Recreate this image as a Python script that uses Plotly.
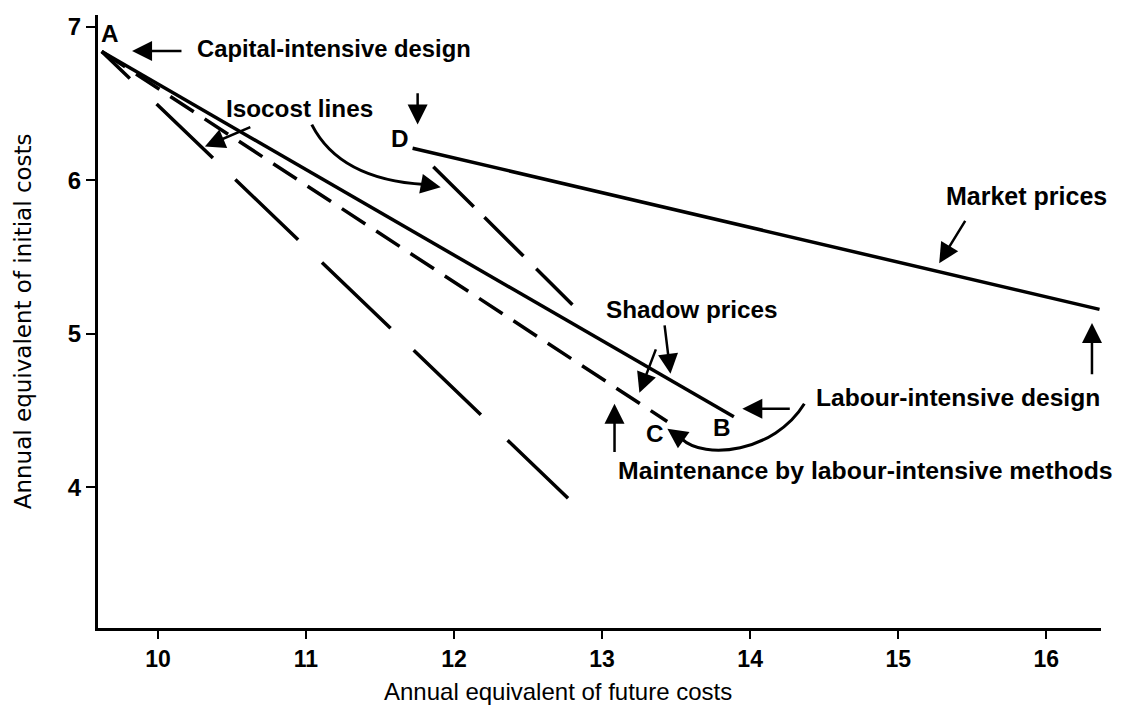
import plotly.graph_objects as go

# ---- data ----
shadow_x = [9.62, 13.89]          # A -> B, shadow prices
shadow_y = [6.84, 4.46]
maint_x = [9.62, 13.44]           # A -> C, labour-intensive maintenance
maint_y = [6.84, 4.43]
market_x = [11.72, 16.36]         # D -> E, market prices
market_y = [6.21, 5.16]
iso1_x = [9.62, 12.77]            # isocost line through A
iso1_y = [6.84, 3.93]
iso2_x = [11.86, 12.80]           # higher isocost line
iso2_y = [6.09, 5.19]

x_ticks = [10, 11, 12, 13, 14, 15, 16]
y_ticks = [4, 5, 6, 7]

FONT = "Liberation Sans"
LW = 3.5

fig = go.Figure()
fig.add_trace(go.Scatter(x=shadow_x, y=shadow_y, mode="lines",
                         line=dict(color="black", width=LW)))
fig.add_trace(go.Scatter(x=maint_x, y=maint_y, mode="lines",
                         line=dict(color="black", width=LW, dash="28px,13px")))
fig.add_trace(go.Scatter(x=market_x, y=market_y, mode="lines",
                         line=dict(color="black", width=LW)))
fig.add_trace(go.Scatter(x=iso1_x, y=iso1_y, mode="lines",
                         line=dict(color="black", width=LW,
                                   dash="39px,37px,78px,31px,87px,33px,95px,32px,93px,37px,86px,50px")))
fig.add_trace(go.Scatter(x=iso2_x, y=iso2_y, mode="lines",
                         line=dict(color="black", width=LW,
                                   dash="57px,15px,55px,18px,51px,10px")))

annotations = []


def label(text, x, y, xanchor="center", size=24.3):
    annotations.append(dict(x=x, y=y, xref="x", yref="y", text="<b>%s</b>" % text,
                            showarrow=False, xanchor=xanchor, yanchor="middle",
                            font=dict(family=FONT, size=size, color="black")))


def arrow(tail, tip):
    annotations.append(dict(x=tip[0], y=tip[1], ax=tail[0], ay=tail[1],
                            xref="x", yref="y", axref="x", ayref="y", text="",
                            showarrow=True, arrowhead=2, arrowsize=1.6, arrowwidth=2.5,
                            arrowcolor="black", standoff=0, startstandoff=0))


label("A", 9.676, 6.955)
label("Capital-intensive design", 10.25, 6.857, xanchor="left", size=23.8)
label("Isocost lines", 10.958, 6.468)
label("D", 11.633, 6.273)
label("Market prices", 15.864, 5.896, size=25)
label("E", 16.478, 5.162)
label("Shadow prices", 13.603, 5.156)
label("Labour-intensive design", 14.433, 4.584, xanchor="left", size=24.6)
label("B", 13.812, 4.390)
label("C", 13.360, 4.351)
label("Maintenance by labour-intensive methods", 13.097, 4.110, xanchor="left", size=24.8)

arrow((10.169, 6.844), (9.825, 6.844))      # capital-intensive
arrow((11.754, 6.578), (11.754, 6.364))     # to D
arrow((10.634, 6.351), (10.317, 6.221))     # isocost straight
arrow((11.802, 5.974), (11.910, 5.955))     # isocost curved end
arrow((15.459, 5.747), (15.277, 5.461))     # market prices
arrow((16.309, 4.727), (16.309, 5.071))     # to E
arrow((13.421, 5.065), (13.462, 4.740))     # shadow 1
arrow((13.367, 4.909), (13.252, 4.617))     # shadow 2
arrow((14.278, 4.513), (13.947, 4.513))     # labour-intensive design
arrow((13.536, 4.318), (13.441, 4.383))     # curved to C
arrow((13.084, 4.221), (13.084, 4.545))     # maintenance

# axis titles
annotations.append(dict(x=0.4586, y=-0.104, xref="paper", yref="paper",
                        text="Annual equivalent of future costs", showarrow=False,
                        xanchor="center", yanchor="middle",
                        font=dict(family="Liberation Sans", size=24, color="black")))
annotations.append(dict(x=-0.075, y=0.5, xref="paper", yref="paper",
                        text="Annual equivalent of initial costs", showarrow=False,
                        textangle=-90, xanchor="center", yanchor="middle",
                        font=dict(family="DejaVu Sans", size=23, color="black")))

shapes = [
    dict(type="path", xref="x", yref="y",
         path="M 11.039,6.364 Q 11.228,6.006 11.802,5.974",
         line=dict(color="black", width=3)),
    dict(type="path", xref="x", yref="y",
         path="M 14.366,4.545 C 14.163,4.227 13.691,4.175 13.536,4.318",
         line=dict(color="black", width=3)),
]

fig.update_layout(
    width=1124, height=699,
    margin=dict(l=90, r=31, t=5, b=79),
    paper_bgcolor="white", plot_bgcolor="white",
    showlegend=False,
    annotations=annotations,
    shapes=shapes,
    xaxis=dict(range=[9.595, 16.37], tickvals=x_ticks, ticks="outside", ticklen=8,
               tickwidth=2, tickcolor="black", showline=True, linecolor="black",
               linewidth=3, showgrid=False, zeroline=False,
               tickfont=dict(family=FONT, size=23, color="black", weight="bold")),
    yaxis=dict(range=[3.084, 7.078], tickvals=y_ticks, ticks="outside", ticklen=9,
               tickwidth=2, tickcolor="black", showline=True, linecolor="black",
               linewidth=3, showgrid=False, zeroline=False,
               tickfont=dict(family=FONT, size=24, color="black", weight="bold")),
)

fig.write_html("out.html")
